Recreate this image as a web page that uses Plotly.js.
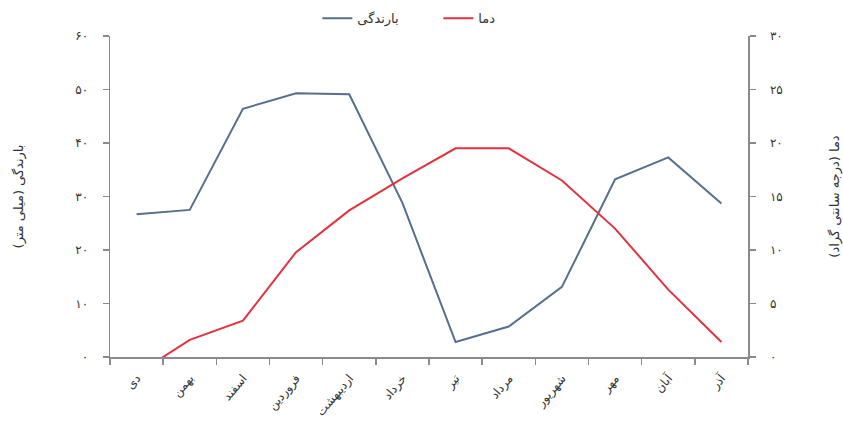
<!DOCTYPE html>
<html>
<head>
<meta charset="utf-8">
<script src="https://cdn.plot.ly/plotly-3.0.1.min.js"></script>
<style>
  html, body { margin: 0; padding: 0; background: #fff; }
  #chart { width: 843px; height: 425px; }
</style>
</head>
<body>
<div id="chart"></div>
<script>
// Months of the Persian calendar, from Dey to Azar
const months = ['دی', 'بهمن', 'اسفند', 'فروردین', 'اردیبهشت', 'خرداد', 'تیر', 'مرداد', 'شهریور', 'مهر', 'آبان', 'آذر'];

// Monthly precipitation (mm)
const rainfall = [26.7, 27.5, 46.4, 49.3, 49.1, 28.8, 2.8, 5.7, 13.1, 33.2, 37.3, 28.7];

// Mean monthly temperature (°C)
const temperature = [-1.6, 1.6, 3.4, 9.8, 13.7, 16.7, 19.5, 19.5, 16.5, 12.0, 6.3, 1.4];

// Axis ticks with Persian numerals
const rainTicks = [0, 10, 20, 30, 40, 50, 60];
const rainTickText = ['۰', '۱۰', '۲۰', '۳۰', '۴۰', '۵۰', '۶۰'];
const tempTicks = [0, 5, 10, 15, 20, 25, 30];
const tempTickText = ['۰', '۵', '۱۰', '۱۵', '۲۰', '۲۵', '۳۰'];

const axisColor = '#8a8a8a';
const textColor = '#333';
const font = 'DejaVu Sans, sans-serif';

const traces = [
  {
    x: months, y: rainfall, name: 'بارندگی', type: 'scatter', mode: 'lines',
    line: { color: '#566f8c', width: 2 }, yaxis: 'y'
  },
  {
    x: months, y: temperature, name: 'دما', type: 'scatter', mode: 'lines',
    line: { color: '#e2323f', width: 2 }, yaxis: 'y2'
  }
];

const layout = {
  width: 843, height: 425,
  margin: { l: 110, r: 95, t: 36, b: 68 },
  paper_bgcolor: '#fff', plot_bgcolor: '#fff',
  font: { family: font, size: 12, color: textColor },
  showlegend: true,
  legend: {
    orientation: 'h', xref: 'container', yref: 'container',
    x: 0.52, xanchor: 'center', y: 0.957, yanchor: 'middle',
    entrywidth: 76, entrywidthmode: 'pixels',
    font: { size: 13, color: textColor }, bgcolor: 'rgba(0,0,0,0)'
  },
  xaxis: {
    type: 'category', range: [-0.5, 11.5], showgrid: false, zeroline: false,
    showline: true, linecolor: axisColor, linewidth: 1.5,
    ticks: 'outside', tickson: 'boundaries', ticklen: 6, tickcolor: axisColor, tickwidth: 1.5,
    tickangle: -50, tickfont: { size: 12, color: textColor }, ticklabelstandoff: 8
  },
  yaxis: {
    range: [0, 60], tickvals: rainTicks, ticktext: rainTickText,
    showgrid: false, zeroline: false,
    showline: true, linecolor: axisColor, linewidth: 1.5,
    ticks: 'outside', ticklen: 6, tickcolor: axisColor, tickwidth: 1.5,
    tickfont: { size: 12, color: textColor }, ticklabelstandoff: 12,
    title: { text: 'بارندگی (میلی متر)', font: { size: 13, color: textColor }, standoff: 48 }
  },
  yaxis2: {
    overlaying: 'y', side: 'right',
    range: [0, 30], tickvals: tempTicks, ticktext: tempTickText,
    showgrid: false, zeroline: false,
    showline: true, linecolor: axisColor, linewidth: 1.5,
    ticks: 'outside', ticklen: 6, tickcolor: axisColor, tickwidth: 1.5,
    tickfont: { size: 12, color: textColor }, ticklabelstandoff: 12,
    title: { text: 'دما (درجه سانتی گراد)', font: { size: 13, color: textColor }, standoff: 50 }
  }
};

Plotly.newPlot('chart', traces, layout, { displayModeBar: false, staticPlot: true });
</script>
</body>
</html>
